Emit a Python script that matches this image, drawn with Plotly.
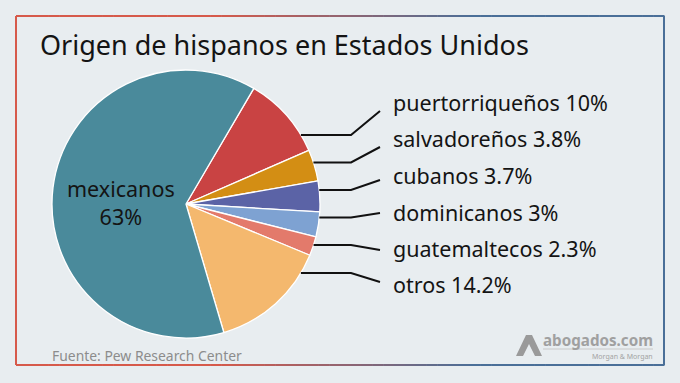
import math
import plotly.graph_objects as go

# ---------------- data ----------------
categories = ["puertorriqueños", "salvadoreños", "cubanos", "dominicanos",
              "guatemaltecos", "otros", "mexicanos"]
shares = [10, 3.8, 3.7, 3, 2.3, 14.2, 63]
share_labels = ["10%", "3.8%", "3.7%", "3%", "2.3%", "14.2%", "63%"]
slice_colors = ["#c94343", "#d38e14", "#5b63a6", "#7ea2d2", "#e37a6b", "#f4b86e", "#4a8a9b"]

title_text = "Origen de hispanos en Estados Unidos"
source_text = "Fuente: Pew Research Center"

# ---------------- layout constants (pixels) ----------------
W, H = 680, 383
CX, CY, R = 186, 204, 134          # pie centre and radius
ROT = 30.4                         # start angle of first slice (deg, clockwise from 12)
leader_y = [135, 162.5, 190, 217.5, 245, 273]
leader_end_y = [111, 147, 180, 213, 250, 282]
label_y = [102, 138, 175, 212, 248, 284]
KNEE_X, END_X, LABEL_X = 351, 380, 391
BG = "#e8edf0"
TXT = "#141414"
LABEL_SIZE = 21.5

fig = go.Figure()

# pixel coordinate system covering the whole page
fig.update_layout(
    width=W, height=H, margin=dict(l=0, r=0, t=0, b=0),
    paper_bgcolor=BG, plot_bgcolor=BG, showlegend=False,
    xaxis=dict(range=[0, W], visible=False, fixedrange=True),
    yaxis=dict(range=[H, 0], visible=False, fixedrange=True),
    font=dict(family="Noto Sans", color=TXT),
)
fig.add_trace(go.Scatter(x=[0, W], y=[0, H], mode="markers",
                         marker=dict(opacity=0), hoverinfo="skip"))

fig.add_trace(go.Pie(
    labels=categories, values=shares, sort=False, direction="clockwise",
    rotation=ROT, textinfo="none", hoverinfo="skip",
    marker=dict(colors=slice_colors, line=dict(color="white", width=1.3)),
    domain=dict(x=[(CX - R) / W, (CX + R) / W],
                y=[1 - (CY + R) / H, 1 - (CY - R) / H]),
))

shapes = []
annotations = []

# leader lines + outside labels
for i in range(6):
    y0 = leader_y[i]
    x0 = CX + math.sqrt(R * R - (y0 - CY) ** 2)
    shapes.append(dict(type="path", xref="x", yref="y",
                       path=f"M{x0},{y0} L{KNEE_X},{y0} L{END_X},{leader_end_y[i]}",
                       line=dict(color="#111111", width=2)))
    annotations.append(dict(x=LABEL_X, y=label_y[i], xref="x", yref="y",
                            text=f"{categories[i]} {share_labels[i]}",
                            showarrow=False, xanchor="left", yanchor="middle",
                            font=dict(size=LABEL_SIZE, color=TXT)))

# inside label for the largest slice (placed at its mid angle)
start = ROT + 360 * sum(shares[:-1]) / sum(shares)
mid = math.radians(start + 180 * shares[-1] / sum(shares))
mx = CX + 0.5 * R * math.sin(mid)
my = CY - 0.5 * R * math.cos(mid)
annotations.append(dict(x=mx + 1, y=my + 7, xref="x", yref="y",
                        text=f"{categories[-1]}<br>{share_labels[-1]}",
                        showarrow=False, xanchor="center", yanchor="middle",
                        font=dict(size=LABEL_SIZE, color=TXT)))

# title & source
annotations.append(dict(x=38, y=44, xref="x", yref="y", text=title_text,
                        showarrow=False, xanchor="left", yanchor="middle",
                        font=dict(size=27, color=TXT)))
annotations.append(dict(x=50, y=355, xref="x", yref="y", text=source_text,
                        showarrow=False, xanchor="left", yanchor="middle",
                        font=dict(size=13.9, color="#8c8c8c")))

# watermark
annotations.append(dict(x=655, y=340, xref="x", yref="y", text="<b>abogados.com</b>",
                        showarrow=False, xanchor="right", yanchor="middle",
                        font=dict(size=15.2, color="#a0a0a0")))
annotations.append(dict(x=655, y=356, xref="x", yref="y", text="Morgan &amp; Morgan",
                        showarrow=False, xanchor="right", yanchor="middle",
                        font=dict(size=7, color="#a3a3a3")))
shapes.append(dict(type="line", xref="x", yref="y", x0=543, x1=653, y0=349, y1=349,
                   line=dict(color="#c8c8c8", width=1)))
shapes.append(dict(type="path", xref="x", yref="y",
                   path="M516,356 L526,335 L532,335 L542,356 L535,356 L529,344 L523,356 Z",
                   fillcolor="#9a9a9a", line=dict(width=0)))

# gradient frame
def mix(t):
    a = (0xd6, 0x5a, 0x4b)
    b = (0x4a, 0x6f, 0x98)
    return "rgb(%d,%d,%d)" % tuple(round(a[k] + (b[k] - a[k]) * t) for k in range(3))

L, Rr, T, B = 16, 664, 16, 365
N = 60
for k in range(N):
    xa = L + (Rr - L) * k / N
    xb = L + (Rr - L) * (k + 1) / N + 0.5
    t = min(max((k / N - 0.3) / 0.4, 0), 1)
    shapes.append(dict(type="line", xref="x", yref="y", x0=xa, x1=xb, y0=T, y1=T,
                       line=dict(color=mix(t), width=2)))
    shapes.append(dict(type="line", xref="x", yref="y", x0=xa, x1=xb, y0=B, y1=B,
                       line=dict(color=mix(t), width=2)))
shapes.append(dict(type="line", xref="x", yref="y", x0=L, x1=L, y0=T, y1=B,
                   line=dict(color=mix(0), width=2)))
shapes.append(dict(type="line", xref="x", yref="y", x0=Rr, x1=Rr, y0=T, y1=B,
                   line=dict(color=mix(1), width=2)))

fig.update_layout(shapes=shapes, annotations=annotations)
fig.write_html("out.html", config={"displayModeBar": False},
               post_script="document.body.style.margin='0';document.body.style.overflow='hidden';")
